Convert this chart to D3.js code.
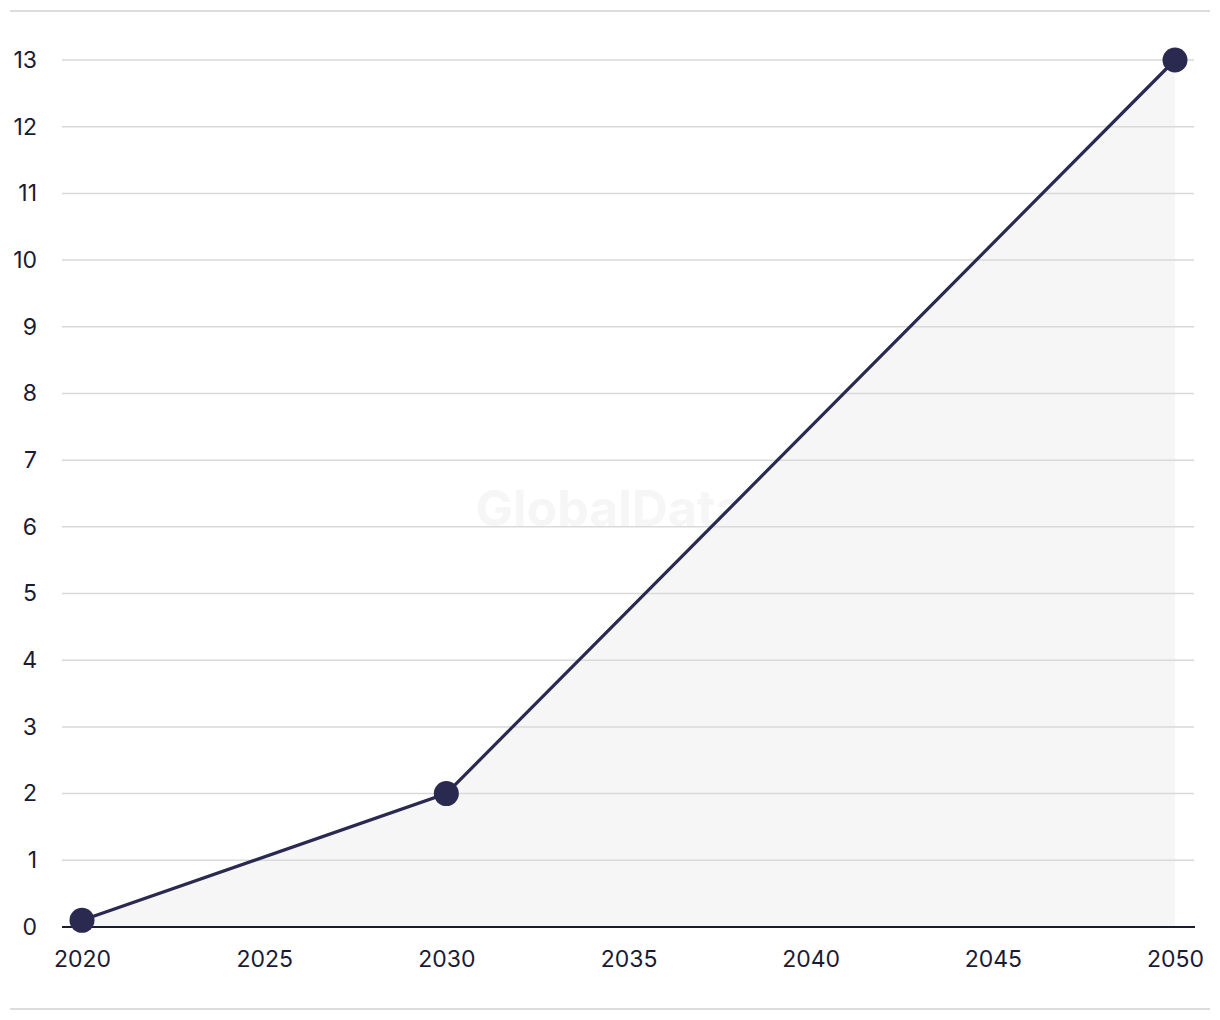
<!DOCTYPE html>
<html><head><meta charset="utf-8">
<script src="https://cdn.jsdelivr.net/npm/d3@7"></script>
<style>body{margin:0;background:#fff}svg{display:block}text{font-family:Inter,"Noto Sans",sans-serif}</style>
</head><body>
<svg id="c" width="1220" height="1020"></svg>
<script>
const years = [2020, 2030, 2050];
const values = [0.1, 2, 13];
const yTicks = [0,1,2,3,4,5,6,7,8,9,10,11,12,13];
const xTicks = [2020,2025,2030,2035,2040,2045,2050];
const watermark = "GlobalData";

const svg = d3.select("#c");
const x = d3.scaleLinear().domain([2020,2050]).range([82,1175]);
const y = d3.scaleLinear().domain([0,13]).range([927,60]);
const ink = "#1b1b33";

svg.append("line").attr("x1",10).attr("x2",1210).attr("y1",11).attr("y2",11).attr("stroke","#dcdcdc").attr("stroke-width",2);
svg.append("line").attr("x1",10).attr("x2",1210).attr("y1",1009).attr("y2",1009).attr("stroke","#dcdcdc").attr("stroke-width",2);

svg.append("text").attr("x",610).attr("y",526).attr("text-anchor","middle")
  .attr("font-size",50).attr("font-weight",700).attr("fill","#f6f6f6").text(watermark);

const data = years.map((d,i)=>({x:d,y:values[i]}));
svg.append("path").datum(data)
  .attr("d", d3.area().x(d=>x(d.x)).y0(y(0)).y1(d=>y(d.y)))
  .attr("fill","#f6f6f7");

const grid = svg.append("g");
yTicks.filter(t=>t>0).forEach(t=>{
  grid.append("line").attr("x1",62).attr("x2",1194).attr("y1",y(t)).attr("y2",y(t))
    .attr("stroke","#d9d9d9").attr("stroke-width",1.5);
});

const ya = svg.append("g").attr("transform","translate(37,0)")
  .call(d3.axisLeft(y).tickValues(yTicks).tickSize(0).tickPadding(0).tickFormat(d3.format("d")));
ya.select(".domain").remove();
ya.selectAll("text").attr("font-size",23).attr("fill",ink).attr("font-family","Inter,'Noto Sans',sans-serif");

const xa = svg.append("g").attr("transform","translate(0,927)")
  .call(d3.axisBottom(x).tickValues(xTicks).tickSize(0).tickPadding(24).tickFormat(d3.format("d")));
xa.select(".domain").remove();
xa.selectAll("text").attr("font-size",23).attr("fill",ink).attr("font-family","Inter,'Noto Sans',sans-serif");

svg.append("line").attr("x1",62).attr("x2",1195).attr("y1",y(0)).attr("y2",y(0)).attr("stroke",ink).attr("stroke-width",2);

svg.append("path").datum(data)
  .attr("d", d3.line().x(d=>x(d.x)).y(d=>y(d.y)))
  .attr("fill","none").attr("stroke","#2a2950").attr("stroke-width",3.2);

svg.selectAll("circle.pt").data(data).join("circle")
  .attr("cx",d=>x(d.x)).attr("cy",d=>y(d.y)).attr("r",12.5).attr("fill","#2a2950");
</script>
</body></html>
